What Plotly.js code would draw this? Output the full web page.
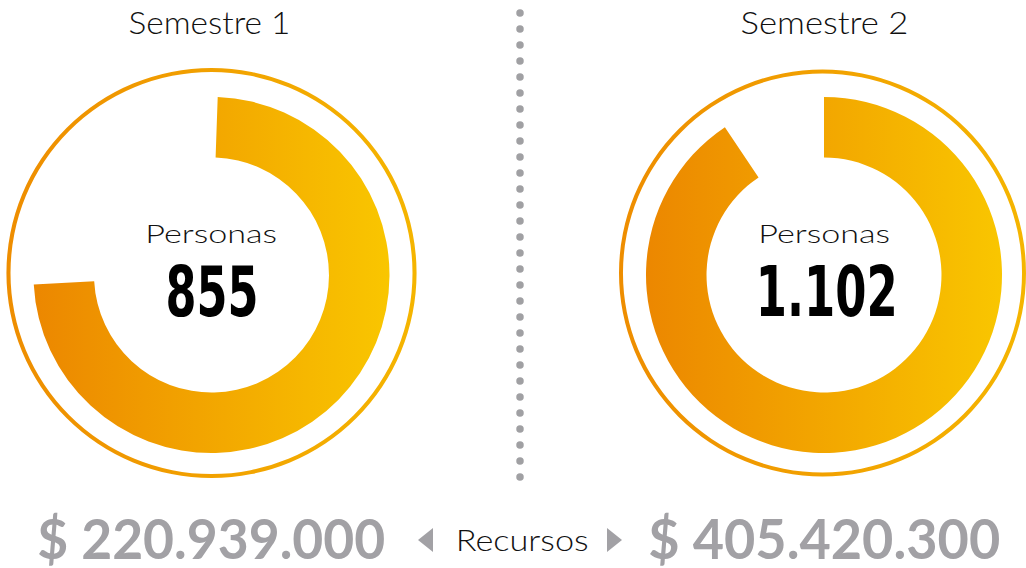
<!DOCTYPE html>
<html>
<head>
<meta charset="utf-8">
<script src="https://cdn.plot.ly/plotly-3.0.1.min.js"></script>
<style>html,body{margin:0;padding:0;background:#fff;}#chart{width:1026px;height:568px;}</style>
</head>
<body>
<div id="chart"></div>
<script>
// ---- data ----
const semesters = ['Semestre 1', 'Semestre 2'];
const personas = [855, 1102];
const personasLabels = ['855', '1.102'];
const fillShare = [0.736, 0.906];          // filled part of each gauge
const recursosLabels = ['$ 220.939.000', '$ 405.420.300'];
const centerLabel = 'Personas';
const middleLabel = 'Recursos';

// ---- layout helpers (pixels -> paper) ----
const W = 1026, H = 568;
const px = x => x / W;
const py = y => 1 - y / H;
const centersX = [211.5, 824];
const centerY = 275;
const rGauge = 178, rRing = 205;
const rotations = [2, 0];

function domainFor(cx, cy, r) {
  return { x: [px(cx - r), px(cx + r)], y: [py(cy + r), py(cy - r)] };
}

const traces = [];
centersX.forEach((cx, i) => {
  traces.push({
    type: 'pie', values: [1], labels: ['ring' + i], sort: false,
    hole: (rRing - 4) / rRing, domain: domainFor(cx, centerY - 2, rRing),
    marker: { colors: ['#F2A400'], line: { width: 0 } },
    textinfo: 'none', hoverinfo: 'none', showlegend: false
  });
});
centersX.forEach((cx, i) => {
  traces.push({
    type: 'pie', values: [fillShare[i], 1 - fillShare[i]],
    labels: [semesters[i], 'resto'], sort: false, direction: 'clockwise',
    rotation: rotations[i],
    hole: 0.66, domain: domainFor(cx, centerY, rGauge),
    marker: { colors: ['#F2A400', 'rgba(0,0,0,0)'], line: { width: 0 } },
    textinfo: 'none', hoverinfo: 'none', showlegend: false
  });
});

const LATO = 'Lato, "DejaVu Sans", sans-serif';
const DEJA = '"DejaVu Sans", sans-serif';
// baseline offset factors (baseline - box centre) / size
const offs = { lato: 0.387, deja: 0.346 };
const annotations = [];
const fitWidths = [];
function addText(text, cx, baseline, size, family, kind, color, width, weight) {
  annotations.push({
    x: px(cx), y: py(baseline - offs[kind] * size), xref: 'paper', yref: 'paper',
    xanchor: 'center', yanchor: 'middle', showarrow: false, text: text,
    font: { family: family, size: size, color: color, weight: weight || 400 }
  });
  fitWidths.push(width);
}
const titleX = [209, 824], titleW = [162, 168];
const persX = [211, 823.5];
const numX = [211.5, 826], numW = [93, 142];
const recX = [211, 824], recW = [348, 352];
centersX.forEach((cx, i) => {
  addText(semesters[i], titleX[i], 34, 32, LATO, 'lato', '#111111', titleW[i], 300);
  addText(centerLabel, persX[i], 243.5, 26, LATO, 'lato', '#111111', 132, 300);
  addText('<b>' + personasLabels[i] + '</b>', numX[i], 316, 70, DEJA, 'deja', '#000000', numW[i]);
  addText('<b>' + recursosLabels[i] + '</b>', recX[i], 559, 55, LATO, 'lato', '#A2A1A5', recW[i]);
});
addText(middleLabel, 521.5, 551, 29, LATO, 'lato', '#111111', 133, 300);

function tri(pts) {
  return 'M' + pts.map(p => px(p[0]) + ',' + py(p[1])).join(' L') + ' Z';
}
const layout = {
  width: W, height: H, margin: { l: 0, r: 0, t: 0, b: 0 },
  paper_bgcolor: '#ffffff', plot_bgcolor: '#ffffff', showlegend: false,
  annotations: annotations,
  shapes: [
    { type: 'line', xref: 'paper', yref: 'paper',
      x0: px(520), x1: px(520), y0: py(13), y1: py(478),
      line: { color: '#A0A0A3', width: 7.5, dash: '0px,16px' } },
    { type: 'path', xref: 'paper', yref: 'paper', path: tri([[418, 540], [433, 528], [433, 552]]),
      fillcolor: '#A2A1A5', line: { width: 0 } },
    { type: 'path', xref: 'paper', yref: 'paper', path: tri([[622, 540], [607, 528], [607, 552]]),
      fillcolor: '#A2A1A5', line: { width: 0 } }
  ]
};

Plotly.newPlot('chart', traces, layout, { displayModeBar: false, staticPlot: true }).then(gd => {
  const svg = gd.querySelector('svg.main-svg');
  const defs = svg.querySelector('defs');
  const NS = 'http://www.w3.org/2000/svg';
  function addGrad(id, c0, c1) {
    const g = document.createElementNS(NS, 'linearGradient');
    g.setAttribute('id', id);
    g.setAttribute('x1', '0'); g.setAttribute('y1', '0');
    g.setAttribute('x2', '1'); g.setAttribute('y2', '0');
    [[0, c0], [1, c1]].forEach(([o, c]) => {
      const s = document.createElementNS(NS, 'stop');
      s.setAttribute('offset', o); s.setAttribute('stop-color', c);
      g.appendChild(s);
    });
    defs.appendChild(g);
  }
  addGrad('gaugeGrad', '#EC8700', '#F9C600');
  addGrad('ringGrad', '#EE8D00', '#F5B500');
  gd.querySelectorAll('.pielayer g.trace').forEach((t, ti) => {
    const first = t.querySelector('g.slice path.surface');
    if (first) first.style.fill = ti < 2 ? 'url(#ringGrad)' : 'url(#gaugeGrad)';
  });
  gd.querySelectorAll('.shapelayer path').forEach(p => { p.style.strokeLinecap = 'round'; });
  // stretch/condense texts horizontally to the widths seen in the picture
  gd.querySelectorAll('g.annotation').forEach(g => {
    const idx = +g.getAttribute('data-index');
    const t = g.querySelector('text');
    if (!t || !fitWidths[idx]) return;
    const b = t.getBBox();
    const s = fitWidths[idx] / b.width;
    const cx = b.x + b.width / 2;
    t.setAttribute('transform', 'translate(' + cx + ',0) scale(' + s + ',1) translate(' + (-cx) + ',0)');
  });
});
</script>
</body>
</html>
